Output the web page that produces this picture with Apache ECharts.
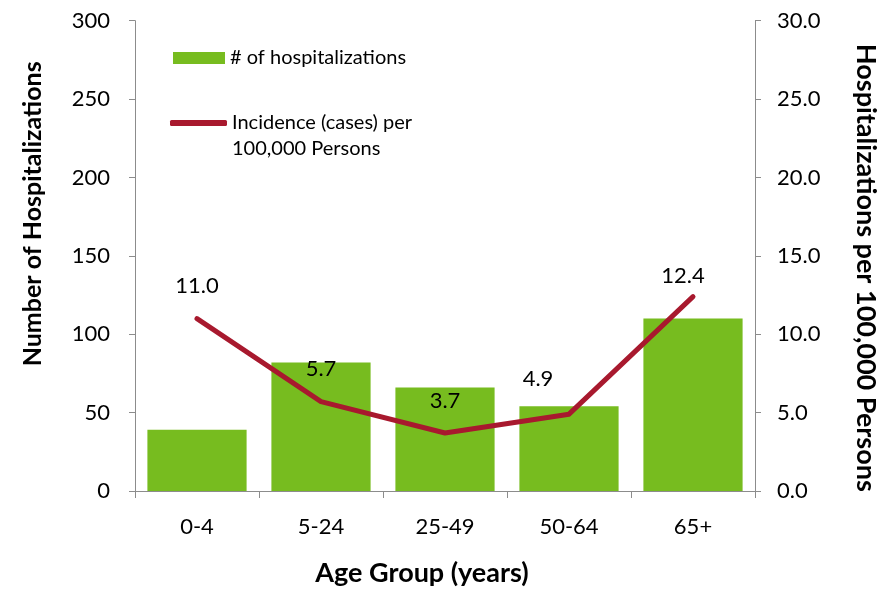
<!DOCTYPE html>
<html>
<head>
<meta charset="utf-8">
<script src="https://cdn.jsdelivr.net/npm/echarts@6/dist/echarts.min.js"></script>
<style>
  html, body { margin: 0; padding: 0; background: #fff; }
  #chart { width: 894px; height: 592px; }
</style>
</head>
<body>
<div id="chart"></div>
<script>
// Age groups and the two measures plotted against them
const ageGroups = ['0-4', '5-24', '25-49', '50-64', '65+'];
const hospitalizations = [39, 82, 66, 54, 110];
const incidence = [11.0, 5.7, 3.7, 4.9, 12.4];
// Label nudges (x, y) for the incidence values
const labelOffsets = [[0, 0], [0, 0], [0, 0], [-31, -3], [-10, 12]];

const FONT = 'Lato';
const AXIS_COLOR = '#8c8c8c';
const BAR_COLOR = '#77bc1f';
const LINE_COLOR = '#a8192e';

const chart = echarts.init(document.getElementById('chart'));

chart.setOption({
  animation: false,
  textStyle: { fontFamily: FONT },
  grid: { left: 135, right: 139, top: 20.7, bottom: 100.3, containLabel: false },
  legend: [
    {
      data: ['# of hospitalizations'],
      left: 173, top: 48, padding: 0,
      icon: 'rect', itemWidth: 52, itemHeight: 12,
      textStyle: { fontFamily: FONT, fontSize: 20, color: '#000' }
    },
    {
      data: ['Incidence (cases) per 100,000 Persons'],
      left: 170, top: 84, padding: 0,
      icon: 'roundRect', itemWidth: 57, itemHeight: 6,
      // a blank first line keeps the marker level with the first text line
      formatter: n => '\n' + n.replace(' 100,000', '\n100,000'),
      textStyle: { fontFamily: FONT, fontSize: 20, color: '#000', lineHeight: 26 }
    }
  ],
  xAxis: {
    type: 'category',
    data: ageGroups,
    name: 'Age Group (years)',
    nameLocation: 'middle',
    nameGap: 69,
    nameTextStyle: { fontFamily: FONT, fontSize: 27, fontWeight: 'bold', color: '#000', padding: [0, 46, 0, 0] },
    axisLine: { lineStyle: { color: AXIS_COLOR, width: 1 } },
    axisTick: { show: true, length: 7, lineStyle: { color: AXIS_COLOR } },
    axisLabel: { fontFamily: FONT, fontSize: 22, color: '#000', margin: 25 }
  },
  yAxis: [
    {
      type: 'value', min: 0, max: 300, interval: 50,
      name: 'Number of Hospitalizations',
      nameLocation: 'middle', nameGap: 89.5, nameRotate: 90,
      nameTextStyle: { fontFamily: FONT, fontSize: 25, fontWeight: 'bold', color: '#000', padding: [0, 0, 0, 84] },
      axisLine: { show: true, lineStyle: { color: AXIS_COLOR } },
      axisTick: { show: true, length: 6, lineStyle: { color: AXIS_COLOR } },
      axisLabel: { fontFamily: FONT, fontSize: 22, color: '#000', margin: 25 },
      splitLine: { show: false }
    },
    {
      type: 'value', min: 0, max: 30, interval: 5, position: 'right',
      name: 'Hospitalizations per 100,000 Persons',
      nameLocation: 'middle', nameGap: 97.5, nameRotate: -90,
      nameTextStyle: { fontFamily: FONT, fontSize: 27, fontWeight: 'bold', color: '#000', padding: [0, 0, 0, 24] },
      axisLine: { show: true, lineStyle: { color: AXIS_COLOR } },
      axisTick: { show: true, length: 6, lineStyle: { color: AXIS_COLOR } },
      axisLabel: { fontFamily: FONT, fontSize: 22, color: '#000', margin: 22, formatter: v => v.toFixed(1) },
      splitLine: { show: false }
    }
  ],
  series: [
    {
      name: '# of hospitalizations',
      type: 'bar',
      yAxisIndex: 0,
      data: hospitalizations,
      barCategoryGap: '20%',
      itemStyle: { color: BAR_COLOR }
    },
    {
      name: 'Incidence (cases) per 100,000 Persons',
      type: 'line',
      yAxisIndex: 1,
      data: incidence.map((v, i) => ({
        value: v,
        label: { offset: labelOffsets[i] }
      })),
      symbol: 'circle',
      symbolSize: 1,
      showSymbol: true,
      lineStyle: { color: LINE_COLOR, width: 5, cap: 'round', join: 'round' },
      itemStyle: { color: LINE_COLOR },
      label: {
        show: true, position: 'top', distance: 21,
        fontFamily: FONT, fontSize: 22, color: '#000',
        formatter: p => p.value.toFixed(1)
      },
      z: 5
    }
  ]
});
</script>
</body>
</html>
